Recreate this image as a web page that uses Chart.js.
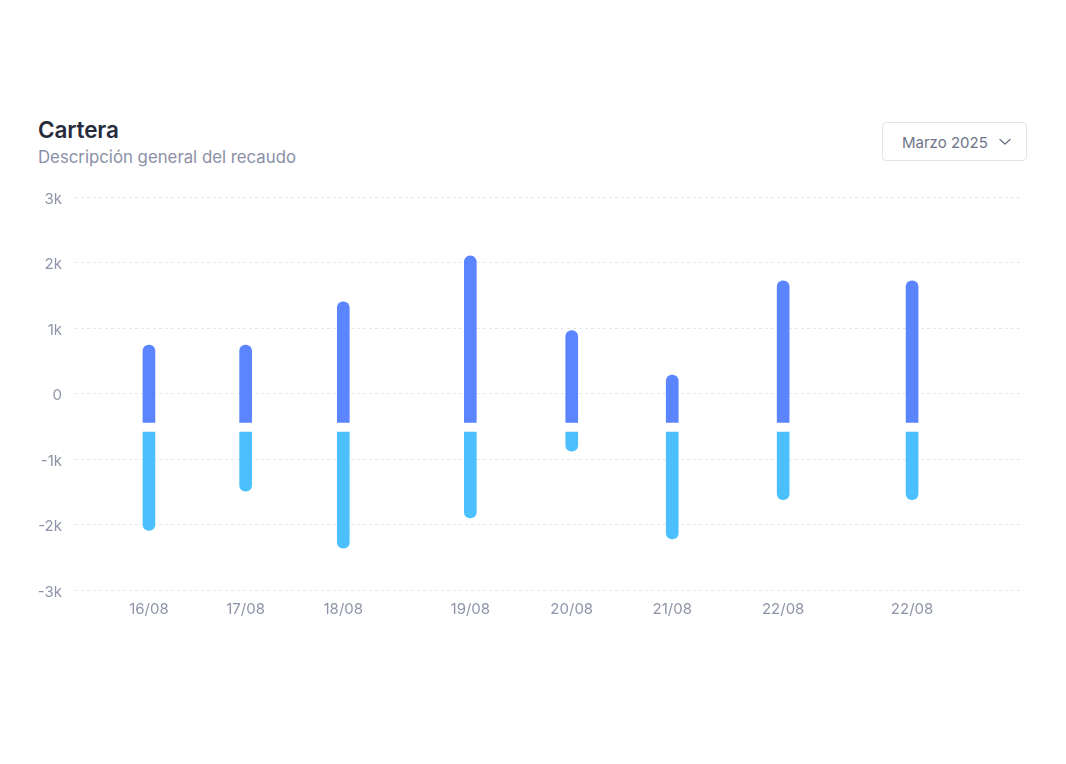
<!DOCTYPE html>
<html>
<head>
<meta charset="utf-8">
<script src="https://cdn.jsdelivr.net/npm/chart.js@4.4.1/dist/chart.umd.min.js"></script>
<style>
  html, body { margin: 0; padding: 0; background: #ffffff; }
  body { width: 1066px; height: 764px; position: relative; overflow: hidden; font-family: Inter, "Noto Sans", sans-serif; }
  #title { position: absolute; left: 38px; top: 116px; font-size: 22.5px; font-weight: 600; color: #262a3b; letter-spacing: -0.1px; }
  #subtitle { position: absolute; left: 38px; top: 147px; font-size: 16.8px; font-weight: 400; color: #8b90a7; letter-spacing: 0; }
  #dropdown { position: absolute; left: 882px; top: 122px; width: 145px; height: 39px; box-sizing: border-box; border: 1px solid #e1e4ea; border-radius: 4px; font-size: 15px; color: #6e7489; }
  #dropdown span { position: absolute; left: 19px; top: 10px; }
  #dropdown svg { position: absolute; left: 116px; top: 15px; }
  #wrap { position: absolute; left: 0; top: 0; width: 1066px; height: 764px; }
</style>
</head>
<body>
<div id="title">Cartera</div>
<div id="subtitle">Descripción general del recaudo</div>
<div id="dropdown"><span>Marzo 2025</span>
  <svg width="12" height="8" viewBox="0 0 12 8"><polyline points="1,1.5 6,6 11,1.5" fill="none" stroke="#6e7489" stroke-width="1.4" stroke-linecap="round" stroke-linejoin="round"/></svg>
</div>
<div id="wrap"><canvas id="c" width="1066" height="764"></canvas></div>
<script>
// Data (values in thousands)
const categories = ['16/08', '17/08', '18/08', '19/08', '20/08', '21/08', '22/08', '22/08'];
const xPositions = [0.78, 1.80, 2.83, 4.17, 5.24, 6.30, 7.47, 8.83];
const ingresos = [0.74, 0.74, 1.40, 2.10, 0.96, 0.28, 1.72, 1.72];
const egresos = [-2.09, -1.49, -2.36, -1.90, -0.88, -2.22, -1.62, -1.62];
const ingresosBase = -0.44;
const egresosBase = -0.59;
const yTicks = [-3, -2, -1, 0, 1, 2, 3];

const tickColor = '#8e94a8';
const tickFont = { family: 'Inter, "Noto Sans", sans-serif', size: 15 };

new Chart(document.getElementById('c'), {
  type: 'bar',
  data: {
    datasets: [
      {
        label: 'Ingresos',
        data: xPositions.map((x, i) => ({ x: x, y: [ingresosBase, ingresos[i]] })),
        backgroundColor: '#5b84ff',
        borderSkipped: false,
        borderRadius: { topLeft: 6, topRight: 6, bottomLeft: 0, bottomRight: 0 },
        barThickness: 12,
        grouped: false
      },
      {
        label: 'Egresos',
        data: xPositions.map((x, i) => ({ x: x, y: [egresosBase, egresos[i]] })),
        backgroundColor: '#4cbfff',
        borderSkipped: false,
        borderRadius: { topLeft: 0, topRight: 0, bottomLeft: 6, bottomRight: 6 },
        barThickness: 12,
        grouped: false
      }
    ]
  },
  options: {
    responsive: false,
    animation: false,
    layout: { padding: { top: 197, right: 43, bottom: 0, left: 0 } },
    plugins: { legend: { display: false }, tooltip: { enabled: false } },
    scales: {
      x: {
        type: 'linear',
        offset: false,
        min: 0,
        max: 10,
        grid: { display: false, drawTicks: false },
        border: { display: false },
        afterBuildTicks: (scale) => { scale.ticks = xPositions.map(v => ({ value: v })); },
        afterFit: (scale) => { scale.height = 174; },
        ticks: {
          autoSkip: false,
          maxRotation: 0,
          padding: 10,
          color: tickColor,
          font: tickFont,
          callback: (value, index) => categories[index]
        }
      },
      y: {
        min: -3,
        max: 3,
        afterBuildTicks: (scale) => { scale.ticks = yTicks.map(v => ({ value: v })); },
        afterFit: (scale) => { scale.width = 75; },
        grid: { color: '#e6e8ee', drawTicks: false, lineWidth: 1 },
        border: { display: false, dash: [3, 3] },
        ticks: {
          padding: 13,
          labelOffset: 2,
          color: tickColor,
          font: tickFont,
          callback: (value) => value === 0 ? '0' : value + 'k'
        }
      }
    }
  }
});
</script>
</body>
</html>
